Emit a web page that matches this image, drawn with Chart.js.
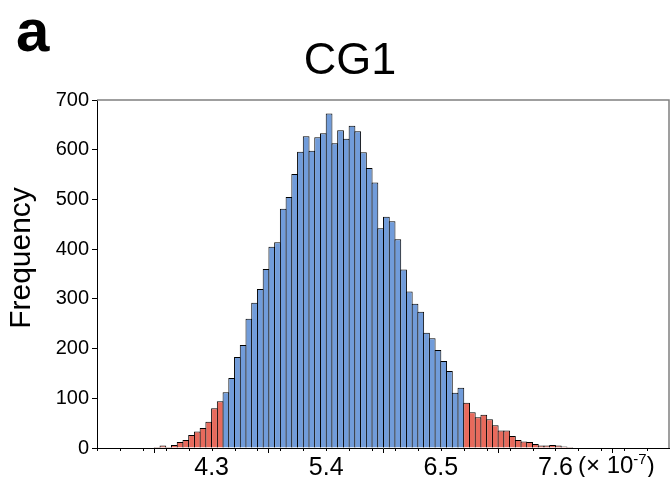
<!DOCTYPE html>
<html>
<head>
<meta charset="utf-8">
<script src="https://cdn.jsdelivr.net/npm/chart.js@4/dist/chart.umd.min.js"></script>
<style>
  html, body { margin: 0; padding: 0; background: #fff; }
  canvas { display: block; }
</style>
</head>
<body>
<canvas id="hist" width="671" height="477"></canvas>
<script>
// Histogram of CG1 values (units of 1e-7); each bin is 0.055 wide.
const binWidth = 0.055;
const binEdges = [
  3.695, 3.750, 3.805, 3.860, 3.915, 3.970, 4.025, 4.080, 4.135, 4.190,
  4.245, 4.300, 4.355, 4.410, 4.465, 4.520, 4.575, 4.630, 4.685, 4.740,
  4.795, 4.850, 4.905, 4.960, 5.015, 5.070, 5.125, 5.180, 5.235, 5.290,
  5.345, 5.400, 5.455, 5.510, 5.565, 5.620, 5.675, 5.730, 5.785, 5.840,
  5.895, 5.950, 6.005, 6.060, 6.115, 6.170, 6.225, 6.280, 6.335, 6.390,
  6.445, 6.500, 6.555, 6.610, 6.665, 6.720, 6.775, 6.830, 6.885, 6.940,
  6.995, 7.050, 7.105, 7.160, 7.215, 7.270, 7.325, 7.380, 7.435, 7.490,
  7.545, 7.600, 7.655, 7.710, 7.765, 7.820, 7.875, 7.930, 7.985, 8.040,
  8.095
];
const counts = [
    1,   2,   5,   2,   6,  12,  16,  26,  33,  40,
   53,  80,  94, 112, 141, 183, 207, 260, 292, 320,
  360, 405, 414, 481, 505, 551, 596, 627, 598, 625,
  633, 673, 613, 639, 622, 648, 637, 595, 563, 534,
  442, 465, 456, 420, 359, 315, 290, 274, 232, 221,
  197, 175, 155, 111, 121,  91,  72,  62,  67,  58,
   46,  35,  35,  24,  16,  13,  12,   8,   5,   5,
    6,   5,   3,   2,   1,   1,   0,   0,   0,   0,
    1
];
// Bins below lowerCut or from upperCut upward are the tails.
const lowerCut = 4.41;
const upperCut = 6.72;

const xTickValues = [4.3, 5.4, 6.5, 7.6];
const xTickLabels = ['4.3', '5.4', '6.5', '7.6'];
const xMinorStep = 0.22;
const yTickValues = [0, 100, 200, 300, 400, 500, 600, 700];

const BODY = 'rgb(113,156,218)';
const TAIL = 'rgb(232,106,92)';
const FONT = '"Liberation Sans", Arial, Helvetica, sans-serif';

const points = binEdges.map((e, i) => ({ x: e + binWidth / 2, y: counts[i] }));

const decorations = {
  id: 'decorations',
  beforeDraw(chart) {
    const c = chart.ctx;
    c.save();
    c.fillStyle = '#fff';
    c.fillRect(0, 0, chart.width, chart.height);
    c.restore();
  },
  afterDraw(chart) {
    const c = chart.ctx;
    const a = chart.chartArea;
    const xs = chart.scales.x;
    c.save();
    // grey frame on top and right
    c.strokeStyle = '#808080';
    c.lineWidth = 1.5;
    c.beginPath();
    c.moveTo(a.left, a.top);
    c.lineTo(a.right, a.top);
    c.lineTo(a.right, a.bottom);
    c.stroke();
    // minor ticks along the x axis
    c.strokeStyle = '#000';
    c.lineWidth = 1;
    c.beginPath();
    for (let v = xs.min; v < xs.max; v += xMinorStep) {
      const px = Math.round(xs.getPixelForValue(v)) + 0.5;
      c.moveTo(px, a.bottom);
      c.lineTo(px, a.bottom + 3);
    }
    c.stroke();
    // panel letter
    c.fillStyle = '#000';
    c.textAlign = 'left';
    c.textBaseline = 'alphabetic';
    c.font = 'bold 60px ' + FONT;
    c.fillText('a', 16, 51);
    // title
    c.font = '45px ' + FONT;
    c.textAlign = 'center';
    c.fillText('CG1', 350, 74);
    // axis title
    c.save();
    c.translate(29.5, 258);
    c.rotate(-Math.PI / 2);
    c.font = '30px ' + FONT;
    c.fillText('Frequency', 0, 0);
    c.restore();
    // unit note after the last x label
    c.textAlign = 'left';
    c.font = '24px ' + FONT;
    let x = 578;
    const base = 473;
    c.fillText('(\u00d7 10', x, base);
    x += c.measureText('(\u00d7 10').width;
    c.font = '15px ' + FONT;
    c.fillText('-7', x, base - 9);
    x += c.measureText('-7').width;
    c.font = '24px ' + FONT;
    c.fillText(')', x, base);
    c.restore();
  }
};

new Chart(document.getElementById('hist'), {
  type: 'bar',
  data: {
    datasets: [{
      data: points,
      backgroundColor: ctx => {
        const p = ctx.raw;
        if (!p) return BODY;
        const edge = p.x - binWidth / 2;
        return (edge < lowerCut - 1e-9 || edge >= upperCut - 1e-9) ? TAIL : BODY;
      },
      borderColor: '#000',
      borderWidth: 1,
      borderSkipped: 'start',
      barPercentage: 1.174,
      categoryPercentage: 1
    }]
  },
  options: {
    responsive: false,
    animation: false,
    events: [],
    layout: { padding: { top: 100, right: 2, left: 0, bottom: 0 } },
    plugins: {
      legend: { display: false },
      tooltip: { enabled: false },
      title: { display: false }
    },
    scales: {
      x: {
        type: 'linear',
        min: 3.2,
        max: 8.69,
        offset: false,
        z: 1,
        afterBuildTicks: s => { s.ticks = xTickValues.map(v => ({ value: v })); },
        afterFit: s => { s.height = 29; },
        ticks: {
          color: '#000',
          font: { family: FONT, size: 25 },
          padding: 0,
          maxRotation: 0,
          autoSkip: false,
          callback: (v) => {
            const i = xTickValues.findIndex(t => Math.abs(t - v) < 1e-9);
            return i >= 0 ? xTickLabels[i] : '';
          }
        },
        grid: { drawOnChartArea: false, color: '#000', tickLength: 5, tickWidth: 1 },
        border: { color: '#000', width: 1 }
      },
      y: {
        min: 0,
        max: 700,
        z: 1,
        afterFit: s => { s.width = 97; },
        ticks: {
          stepSize: 50,
          color: '#000',
          font: { family: FONT, size: 20 },
          padding: 3,
          callback: v => (yTickValues.includes(v) ? String(v) : '')
        },
        grid: { drawOnChartArea: false, color: '#000', tickLength: 5, tickWidth: 1 },
        border: { color: '#000', width: 1 }
      }
    }
  },
  plugins: [decorations]
});
</script>
</body>
</html>
